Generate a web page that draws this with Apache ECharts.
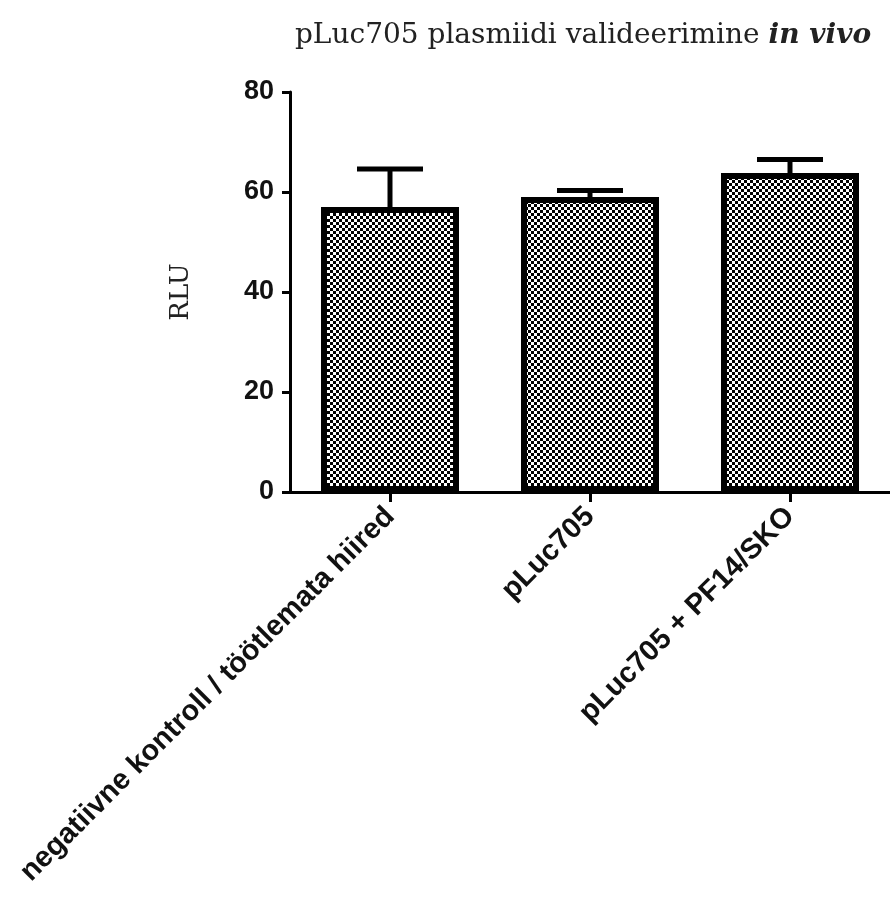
<!DOCTYPE html>
<html>
<head>
<meta charset="utf-8">
<script src="https://cdn.jsdelivr.net/npm/echarts@6/dist/echarts.min.js"></script>
<style>
  html, body { margin: 0; padding: 0; background: #fff; }
  #chart { width: 890px; height: 900px; }
</style>
</head>
<body>
<div id="chart"></div>
<script>
// andmed
var categories = ['negatiivne kontroll / töötlemata hiired', 'pLuc705', 'pLuc705 + PF14/SKO'];
var means = [57, 59, 63.8];
var errUpper = [64.6, 60.3, 66.5];
var yTicks = [0, 20, 40, 60, 80];

// ruuduline muster tulpadele
function makePattern() {
  var c = document.createElement('canvas');
  c.width = 6;
  c.height = 6;
  var ctx = c.getContext('2d');
  ctx.fillStyle = '#fff';
  ctx.fillRect(0, 0, 6, 6);
  ctx.fillStyle = '#000';
  ctx.fillRect(0, 0, 3, 3);
  ctx.fillRect(3, 3, 3, 3);
  return c;
}

var chart = echarts.init(document.getElementById('chart'));
var option = {
  animation: false,
  backgroundColor: '#fff',
  title: {
    text: '{n|pLuc705 plasmiidi valideerimine }{i|in vivo}',
    left: 578,
    top: 17,
    textAlign: 'center',
    textStyle: {
      rich: {
        n: { fontFamily: 'DejaVu Serif', fontSize: 28, fontWeight: 'normal', color: '#222' },
        i: { fontFamily: 'DejaVu Serif', fontSize: 28, fontStyle: 'italic', fontWeight: 'bold', color: '#222' }
      }
    }
  },
  grid: {
    left: 290,
    right: 0,
    top: 92,
    bottom: 408
  },
  xAxis: {
    type: 'category',
    data: categories,
    axisLine: { lineStyle: { color: '#000', width: 3 } },
    axisTick: { show: true, alignWithLabel: true, length: 10, lineStyle: { color: '#000', width: 3 } },
    axisLabel: {
      rotate: 45,
      interval: 0,
      margin: 20,
      color: '#111',
      fontFamily: 'Liberation Sans',
      fontWeight: 'bold',
      fontSize: 29
    }
  },
  yAxis: {
    type: 'value',
    min: yTicks[0],
    max: yTicks[yTicks.length - 1],
    interval: 20,
    name: 'RLU',
    nameLocation: 'middle',
    nameGap: 96,
    nameTextStyle: { fontFamily: 'DejaVu Serif', fontSize: 26, color: '#222' },
    splitLine: { show: false },
    axisLine: { show: true, lineStyle: { color: '#000', width: 3 } },
    axisTick: { show: true, length: 8, lineStyle: { color: '#000', width: 3 } },
    axisLabel: {
      margin: 16,
      color: '#111',
      fontFamily: 'Liberation Sans',
      fontWeight: 'bold',
      fontSize: 27
    }
  },
  series: [
    {
      type: 'custom',
      z: 1,
      data: categories.map(function (c, i) { return [i, means[i], errUpper[i]]; }),
      renderItem: function (params, api) {
        var base = api.coord([api.value(0), api.value(1)]);
        var top = api.coord([api.value(0), api.value(2)]);
        var half = 33;
        return {
          type: 'group',
          children: [
            { type: 'line', shape: { x1: base[0], y1: base[1], x2: top[0], y2: top[1] }, style: { stroke: '#000', lineWidth: 5 } },
            { type: 'line', shape: { x1: top[0] - half, y1: top[1], x2: top[0] + half, y2: top[1] }, style: { stroke: '#000', lineWidth: 5 } }
          ]
        };
      }
    },
    {
      type: 'bar',
      z: 2,
      data: means,
      barWidth: '69%',
      itemStyle: {
        color: { image: makePattern(), repeat: 'repeat' },
        borderColor: '#000',
        borderWidth: 6
      }
    }
  ]
};
chart.setOption(option);
</script>
</body>
</html>
